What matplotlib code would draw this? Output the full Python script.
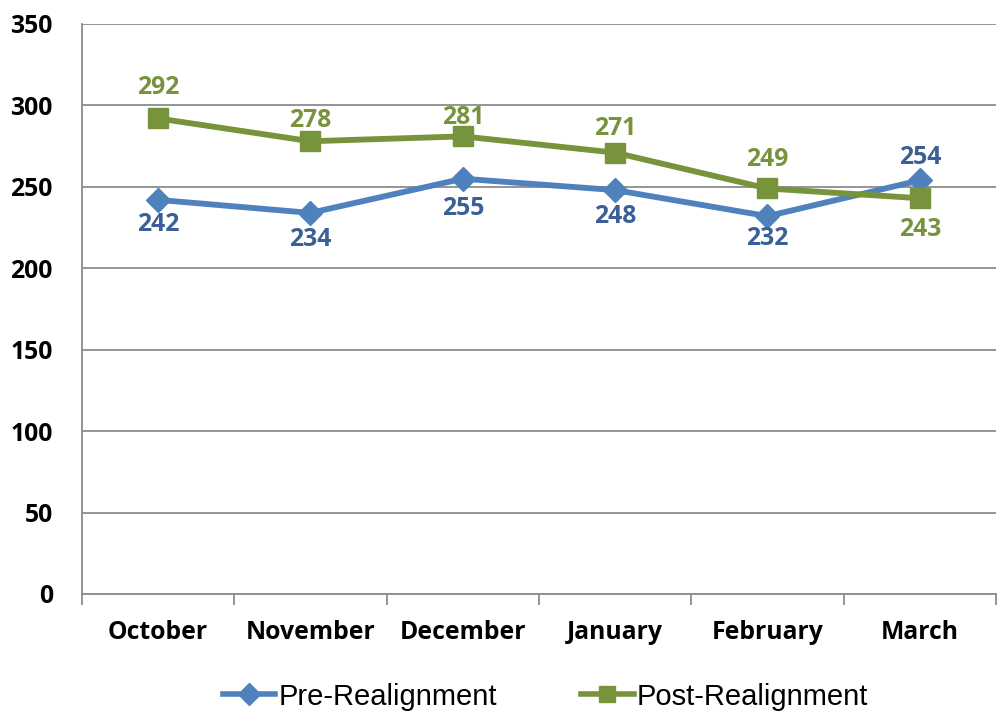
import matplotlib
matplotlib.use("Agg")
import matplotlib.pyplot as plt
from matplotlib.lines import Line2D

months = ["October", "November", "December", "January", "February", "March"]
pre = [242, 234, 255, 248, 232, 254]
post = [292, 278, 281, 271, 249, 243]
yticks = [0, 50, 100, 150, 200, 250, 300, 350]

# label placement (pixels from marker centre to digit centre, downward positive)
pre_dy = [22, 24, 27.5, 24, 19.5, -25]
post_dy = [-33, -23, -21.5, -26.5, -31.5, 29]

pre_line = "#4F81BD"
pre_text = "#3A6096"
post_col = "#77933C"
grid_col = "#8C8C8C"

fig = plt.figure(figsize=(9.97, 7.16), dpi=100)
ax = fig.add_axes([0.0822, 0.1704, 0.9168, 0.7961])

x = list(range(len(months)))
ax.plot(x, pre, color=pre_line, lw=4.2, marker="D", ms=12, zorder=3)
ax.plot(x, post, color=post_col, lw=4.2, marker="s", ms=14, zorder=3)

lab_font = dict(family=["Open Sans", "DejaVu Sans"], fontweight="bold", fontsize=17.8)
half_digit = 9
for vals, dys, col in [(pre, pre_dy, pre_text), (post, post_dy, post_col)]:
    for i, (v, dy) in enumerate(zip(vals, dys)):
        ax.annotate(str(v), (i, v), xytext=(0, -(dy + half_digit) * 0.72),
                    textcoords="offset points", ha="center", va="baseline",
                    color=col, **lab_font)

ax.set_xlim(-0.5, len(months) - 0.5)
ax.set_ylim(0, 350)
ax.set_yticks(yticks)
ax.set_yticklabels([str(v) for v in yticks], **lab_font)
ax.yaxis.grid(True, color=grid_col, lw=1.3)
ax.set_axisbelow(True)
ax.tick_params(axis="y", length=0, pad=21)

ax.set_xticks([i + 0.5 for i in range(-1, len(months))], minor=False)
ax.set_xticklabels([])
ax.tick_params(axis="x", which="major", length=8, color=grid_col, width=1.3)
ax.set_xticks(x, minor=True)
ax.set_xticklabels(months, minor=True, **lab_font)
ax.tick_params(axis="x", which="minor", length=0, pad=19)

for s in ["top", "right"]:
    ax.spines[s].set_visible(False)
for s in ["left", "bottom"]:
    ax.spines[s].set_color(grid_col)
    ax.spines[s].set_linewidth(1.3)

handles = [
    Line2D([], [], color=pre_line, lw=4, marker="D", ms=11),
    Line2D([], [], color=post_col, lw=4, marker="s", ms=11),
]
fig.legend(handles, ["Pre-Realignment", "Post-Realignment"], loc="center",
           bbox_to_anchor=(0.547, 0.027), ncol=2, frameon=False,
           prop=dict(family=["Liberation Sans", "DejaVu Sans"], size=21),
           handlelength=1.8, handletextpad=0.1, columnspacing=2.9)

fig.savefig("out.png", dpi=100)
